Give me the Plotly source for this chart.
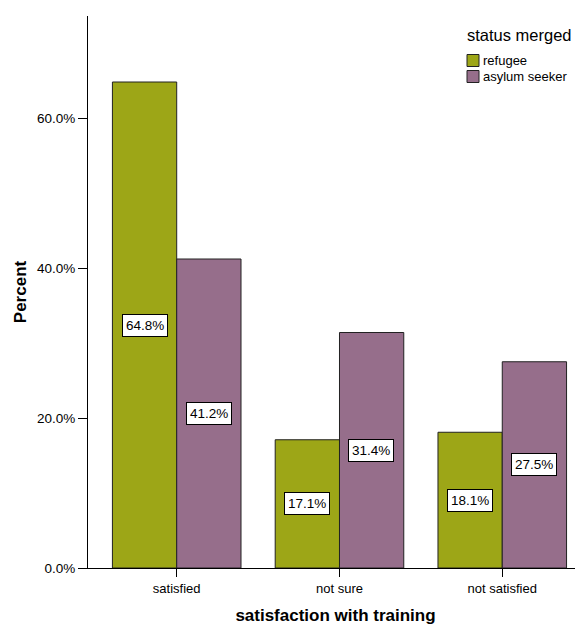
import plotly.graph_objects as go

categories = ["satisfied", "not sure", "not satisfied"]
refugee = [64.8, 17.1, 18.1]
asylum_seeker = [41.2, 31.4, 27.5]
series_names = ["refugee", "asylum seeker"]
legend_title = "status merged"
y_ticks = [0, 20, 40, 60]

colors = ["#9DA617", "#966E8B"]
FONT = "Liberation Sans, Arial, Helvetica, sans-serif"

# page has an 8px body margin; size the figure to fill the remaining window
OFF = 8
W, H = 583 - OFF, 625 - OFF
L, R, T, B = 88 - OFF, 0, 16 - OFF, 57
PW, PH = W - L - R, H - T - B


def px(x):
    return (x - OFF - L) / PW


def py(y):
    return (H - B - (y - OFF)) / PH


fig = go.Figure()
for name, vals, col in zip(series_names, [refugee, asylum_seeker], colors):
    fig.add_trace(go.Bar(
        name=name, x=categories, y=vals,
        marker=dict(color=col, line=dict(color="#222222", width=1)),
        showlegend=False,
    ))

half = 32
for vals, shift in [(refugee, -half), (asylum_seeker, half)]:
    for c, v in zip(categories, vals):
        fig.add_annotation(
            x=c, y=v / 2, xref="x", yref="y", xshift=shift,
            text=f"{v:.1f}%", showarrow=False,
            font=dict(family=FONT, size=13.5, color="black"),
            bgcolor="white", bordercolor="black", borderwidth=1, borderpad=3,
        )

# legend (drawn manually to match the compact layout)
fig.add_annotation(
    x=px(465), y=py(35), xref="paper", yref="paper",
    xanchor="left", yanchor="middle", showarrow=False,
    text=legend_title, font=dict(family=FONT, size=16.5, color="black"),
)
for i, (name, col) in enumerate(zip(series_names, colors)):
    cy = 60.5 + 16 * i
    fig.add_shape(
        type="rect", xref="paper", yref="paper",
        x0=px(467), x1=px(479), y0=py(cy + 6), y1=py(cy - 6),
        fillcolor=col, line=dict(color="#222222", width=1),
    )
    fig.add_annotation(
        x=px(481), y=py(cy), xref="paper", yref="paper",
        xanchor="left", yanchor="middle", showarrow=False,
        text=name, font=dict(family=FONT, size=13, color="black"),
    )

fig.update_layout(
    width=W, height=H,
    margin=dict(l=L, r=R, t=T, b=B, autoexpand=False),
    paper_bgcolor="white", plot_bgcolor="white",
    barmode="group", bargap=0.21, bargroupgap=0,
    font=dict(family=FONT, size=13, color="black"),
    showlegend=False,
    xaxis=dict(
        range=[-0.545, 2.496], automargin=False,
        showline=True, linecolor="black", linewidth=1,
        ticks="outside", ticklen=8, tickcolor="black",
        showgrid=False, zeroline=False,
        title=dict(text="<b>satisfaction with training</b>", font=dict(size=17), standoff=18),
        tickfont=dict(size=13),
    ),
    yaxis=dict(
        range=[0, 73.6], automargin=False,
        tickvals=y_ticks, ticktext=[f"{t:.1f}%" for t in y_ticks],
        showline=True, linecolor="black", linewidth=1,
        ticks="outside", ticklen=9, tickcolor="black",
        showgrid=False, zeroline=False,
        title=dict(text="<b>Percent</b>", font=dict(size=17), standoff=6),
        tickfont=dict(size=13.5),
    ),
)

fig.write_html("out.html")
